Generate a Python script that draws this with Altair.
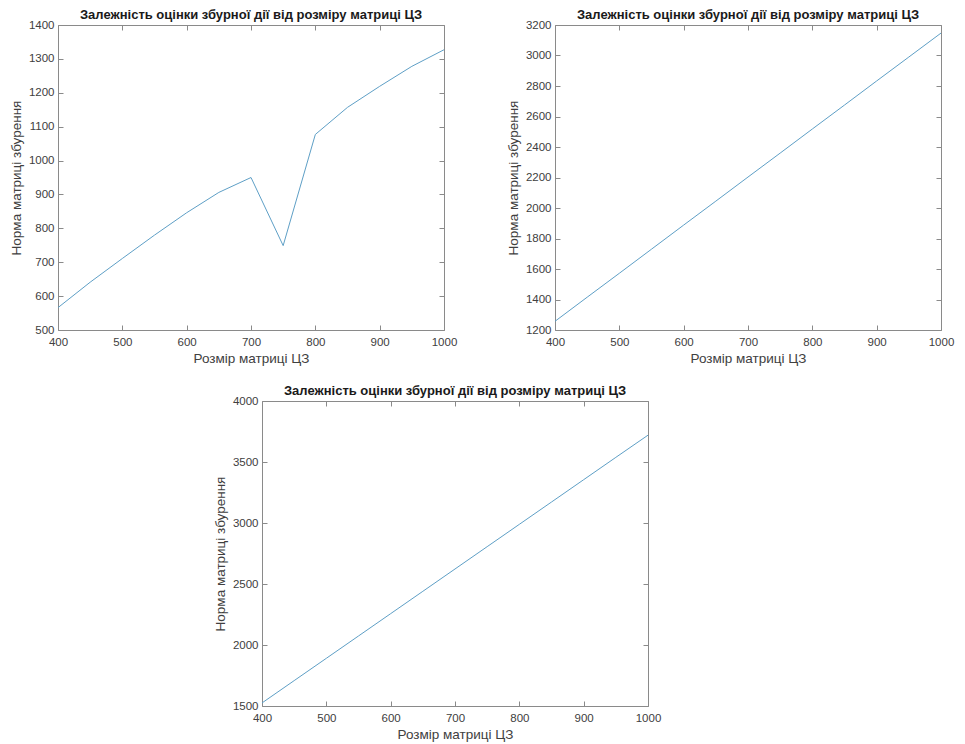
import altair as alt
import pandas as pd

sizes = [400, 450, 500, 550, 600, 650, 700, 750, 800, 850, 900, 950, 1000]
norm_a = [566, 641, 711, 780, 846, 906, 950, 749, 1077, 1157, 1219, 1278, 1327]
norm_b = [1257, 1415, 1572, 1730, 1888, 2045, 2203, 2360, 2518, 2675, 2833, 2990, 3147]
norm_c = [1525, 1708, 1891, 2074, 2257, 2440, 2623, 2806, 2989, 3172, 3355, 3538, 3720]

title_text = "Залежність оцінки збурної дії від розміру матриці ЦЗ"
x_title = "Розмір матриці ЦЗ"
y_title = "Норма матриці збурення"

W, H = 386, 305
FONT = "Liberation Sans"
AXC = "#8a8a8a"
TXT = "#404040"
LINE = "#5e9fc6"


def panel(vals, ydom, ystep):
    df = pd.DataFrame({"x": sizes, "y": vals})
    return alt.Chart(df).mark_line(color=LINE, strokeWidth=1).encode(
        x=alt.X("x:Q", title=x_title,
                scale=alt.Scale(domain=[400, 1000], nice=False, zero=False),
                axis=alt.Axis(values=list(range(400, 1001, 100)), format="d",
                              gridDash=[5, H - 10, 5, 2000])),
        y=alt.Y("y:Q", title=y_title,
                scale=alt.Scale(domain=ydom, nice=False, zero=False),
                axis=alt.Axis(values=list(range(ydom[0], ydom[1] + 1, ystep)),
                              format="d", gridDash=[5, W - 10, 5, 2000])),
    ).properties(
        width=W, height=H,
        title=alt.TitleParams(title_text, fontSize=13, fontWeight="bold",
                              font=FONT, color="#1a1a1a", offset=-3),
        view=alt.ViewConfig(stroke=AXC, strokeWidth=1),
    )


p1 = panel(norm_a, [500, 1400], 100)
p2 = panel(norm_b, [1200, 3200], 200)
p3 = panel(norm_c, [1500, 4000], 500)

spacer = alt.Chart(pd.DataFrame({"a": [0]})).mark_point(opacity=0).properties(
    width=153, height=1, view=alt.ViewConfig(stroke="transparent")
)

top = alt.hconcat(p1, p2, spacing=47)
bottom = alt.hconcat(spacer, p3, spacing=0)
chart = alt.vconcat(top, bottom, spacing=18).properties(
    padding={"left": 0, "top": 0, "right": 0, "bottom": 0}
).configure_axis(
    domain=False, ticks=False, grid=True, gridColor=AXC, gridWidth=1,
    gridOpacity=1, labelFont=FONT, labelFontSize=11.5, labelColor=TXT,
    labelPadding=4, titleFont=FONT, titleFontSize=13.5, titleColor=TXT,
    titleFontWeight="normal", labelOverlap=False, labelFlush=False,
).configure_axisY(titlePadding=5).configure_axisX(titlePadding=4, labelPadding=6)

chart.save("out.html", embed_options={"renderer": "svg", "actions": False})
